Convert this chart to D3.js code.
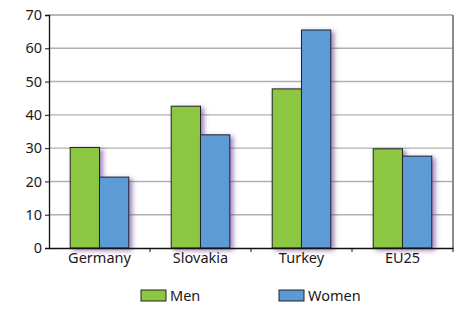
<!DOCTYPE html>
<html>
<head>
<meta charset="utf-8">
<script src="https://cdn.jsdelivr.net/npm/d3@7"></script>
<style>
body { margin: 0; background: #fff; }
text { font-family: "Noto Sans", "Open Sans", sans-serif; fill: #1a1a1a; }
</style>
</head>
<body>
<div id="chart"></div>
<script>
// data
const countries = ["Germany", "Slovakia", "Turkey", "EU25"];
const men = [30.2, 42.6, 47.8, 29.8];
const women = [21.3, 34.0, 65.5, 27.6];
const series = ["Men", "Women"];
const yTicks = [0, 10, 20, 30, 40, 50, 60, 70];

const width = 459, height = 309;
const margin = {top: 15, right: 6, bottom: 61, left: 49};
const colors = {Men: "#8dc63f", Women: "#5b9bd5"};

let svg = d3.select("#chart")
    .append("svg")
    .attr("width", width)
    .attr("height", height);

// purple glow behind bars
let defs = svg.append("defs");
let f = defs.append("filter").attr("id", "glow")
    .attr("x", "-30%").attr("y", "-10%").attr("width", "170%").attr("height", "130%");
f.append("feDropShadow")
    .attr("dx", 3).attr("dy", 2).attr("stdDeviation", 2.4)
    .attr("flood-color", "#6a3d9a").attr("flood-opacity", 0.65);

let plotW = width - margin.left - margin.right;
let plotH = height - margin.top - margin.bottom;

let g = svg.append("g")
    .attr("transform", "translate(" + margin.left + "," + margin.top + ")");

let x = d3.scaleBand()
    .domain(countries)
    .range([0, plotW]);

let xs = d3.scaleBand()
    .domain(series)
    .range([x.bandwidth() * 0.21, x.bandwidth() * 0.79]);

let y = d3.scaleLinear()
    .domain([0, 70])
    .range([plotH, 0]);

// gridlines
g.selectAll(".grid")
    .data(yTicks.filter(d => d > 0 && d < 70))
    .enter()
    .append("line")
    .attr("x1", 0).attr("x2", plotW)
    .attr("y1", d => y(d)).attr("y2", d => y(d))
    .attr("stroke", "#b0b0b0")
    .attr("stroke-width", 1.4);

// frame top and right
g.append("line")
    .attr("x1", 0).attr("x2", plotW)
    .attr("y1", y(70)).attr("y2", y(70))
    .attr("stroke", "#a0a0a0").attr("stroke-width", 1.4);
g.append("line")
    .attr("x1", plotW).attr("x2", plotW)
    .attr("y1", y(70)).attr("y2", plotH)
    .attr("stroke", "#707070").attr("stroke-width", 1.6);

// bars
let rows = countries.map((c, i) => ({country: c, Men: men[i], Women: women[i]}));
let groups = g.selectAll(".cat")
    .data(rows)
    .enter()
    .append("g")
    .attr("transform", d => "translate(" + x(d.country) + ",0)");

groups.selectAll("rect")
    .data(d => series.map(s => ({key: s, value: d[s]})))
    .enter()
    .append("rect")
    .attr("x", d => xs(d.key))
    .attr("y", d => y(d.value))
    .attr("width", xs.bandwidth())
    .attr("height", d => plotH - y(d.value))
    .attr("fill", d => colors[d.key])
    .attr("stroke", "#222")
    .attr("stroke-width", 1)
    .attr("filter", "url(#glow)");

// y axis
let yAxis = g.append("g")
    .call(d3.axisLeft(y).tickValues(yTicks).tickSize(4).tickPadding(3));
yAxis.select(".domain").attr("stroke", "#111").attr("stroke-width", 1.3);
yAxis.selectAll(".tick line").attr("stroke", "#111");
yAxis.selectAll("text").style("font-size", "14.5px").attr("fill", "#1a1a1a");

// x axis
let xAxis = g.append("g")
    .attr("transform", "translate(0," + plotH + ")")
    .call(d3.axisBottom(x).tickSize(0).tickPadding(5));
xAxis.select(".domain").attr("stroke", "#111").attr("stroke-width", 1.3);
xAxis.selectAll("text").style("font-size", "14.5px").attr("fill", "#1a1a1a");

// category boundary ticks
g.selectAll(".sep")
    .data(countries)
    .enter()
    .append("line")
    .attr("x1", d => x(d) + x.bandwidth()).attr("x2", d => x(d) + x.bandwidth())
    .attr("y1", plotH).attr("y2", plotH + 4)
    .attr("stroke", "#111");

// legend
let legendX = [141, 279];
let legend = svg.selectAll(".legend")
    .data(series)
    .enter()
    .append("g")
    .attr("transform", (d, i) => "translate(" + legendX[i] + ",290)");
legend.append("rect")
    .attr("width", 25).attr("height", 11)
    .attr("fill", d => colors[d])
    .attr("stroke", "#222").attr("stroke-width", 1);
legend.append("text")
    .attr("x", 29).attr("y", 11)
    .text(d => d)
    .style("font-size", "14.5px");
</script>
</body>
</html>
